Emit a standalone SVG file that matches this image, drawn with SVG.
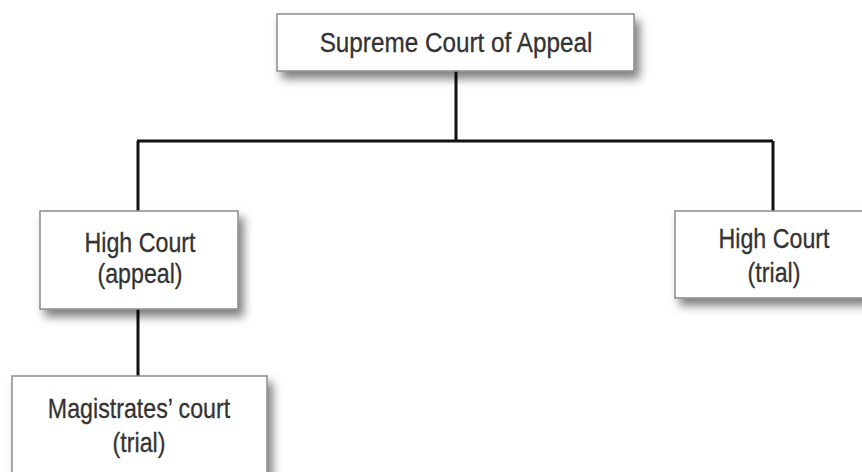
<svg xmlns="http://www.w3.org/2000/svg" width="862" height="472" viewBox="0 0 862 472">
<defs>
<filter id="sh" x="-10%" y="-20%" width="130%" height="160%">
<feDropShadow dx="5" dy="7" stdDeviation="5" flood-color="#000" flood-opacity="0.5"/>
</filter>
</defs>
<style>
.box{fill:#fff;stroke:#8a8a8a;stroke-width:1.5;filter:url(#sh)}
.t{font-family:"Liberation Sans",Arial,sans-serif;font-size:27px;fill:#333;stroke:#333;stroke-width:0.3;text-anchor:middle}
.c{stroke:#111;stroke-width:3;fill:none}
</style>
<rect width="862" height="472" fill="#fff"/>
<g id="connectors">
<path class="c" d="M456,71 V141 M137,141 H773 M138,141 V211 M773,141 V211 M138,309 V376"/>
</g>
<g id="supreme">
<rect class="box" x="277" y="14" width="357" height="57"/>
<text class="t" transform="translate(456,52) scale(0.9,1)">Supreme Court of Appeal</text>
</g>
<g id="high-appeal">
<rect class="box" x="40" y="211" width="198" height="98"/>
<text class="t" transform="translate(140,252) scale(0.86,1)">High Court</text>
<text class="t" transform="translate(140,283) scale(0.86,1)">(appeal)</text>
</g>
<g id="high-trial">
<rect class="box" x="675" y="211" width="190" height="87"/>
<text class="t" transform="translate(774,248) scale(0.86,1)">High Court</text>
<text class="t" transform="translate(774,282) scale(0.86,1)">(trial)</text>
</g>
<g id="magistrates">
<rect class="box" x="12" y="376" width="255" height="110"/>
<text class="t" transform="translate(139,418) scale(0.86,1)">Magistrates’ court</text>
<text class="t" transform="translate(139,452) scale(0.86,1)">(trial)</text>
</g>
</svg>
